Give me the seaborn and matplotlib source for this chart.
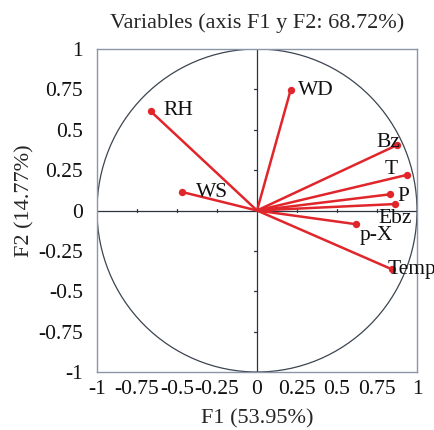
import matplotlib
matplotlib.use("Agg")
import matplotlib.pyplot as plt
import seaborn as sns
import numpy as np
import pandas as pd

variables = ["WD", "RH", "WS", "Bz", "T", "P", "Ebz", "p-X", "Temp"]
f1 = [0.21, -0.665, -0.47, 0.875, 0.935, 0.83, 0.865, 0.62, 0.845]
f2 = [0.745, 0.615, 0.115, 0.405, 0.22, 0.10, 0.04, -0.085, -0.365]
ticks = [-1, -0.75, -0.5, -0.25, 0, 0.25, 0.5, 0.75, 1]
tick_labels = ["-1", "-0.75", "-0.5", "-0.25", "0", "0.25", "0.5", "0.75", "1"]
title = "Variables (axis F1 y F2: 68.72%)"
xlabel = "F1 (53.95%)"
ylabel = "F2 (14.77%)"

# label offsets in pixels and alignment (style)
offsets = {"WD": (7, 0, "left"), "RH": (13, 1, "left"), "WS": (14, -1, "left"),
           "Bz": (3, 3, "right"), "T": (-9, 5, "right"), "P": (8, -2, "left"),
           "Ebz": (16, -14, "right"), "p-X": (3, -11, "left"), "Temp": (-5, 0, "left")}

sns.set_style("white")
plt.rcParams["font.family"] = ["Liberation Serif", "DejaVu Serif"]

df = pd.DataFrame({"var": variables, "F1": f1, "F2": f2})

fig = plt.figure(figsize=(4.35, 4.30), dpi=100)
ax = fig.add_axes([97/435, 1-372/430, 320/435, 323/430])

red = "#e0262b"
axis_col = "#2b3440"
for x, y in zip(df.F1, df.F2):
    ax.plot([0, x], [0, y], color=red, lw=1.8, zorder=3, solid_capstyle="butt")
sns.scatterplot(data=df, x="F1", y="F2", ax=ax, color=red, s=28, edgecolor=red,
                linewidth=0, zorder=4, legend=False)

circle = plt.Circle((0, 0), 1, fill=False, color="#3b4550", lw=0.9, zorder=2)
ax.add_patch(circle)
ax.axhline(0, color=axis_col, lw=0.9, zorder=2)
ax.axvline(0, color=axis_col, lw=0.9, zorder=2)
for t in ticks:
    if t in (-1, 0, 1):
        continue
    ax.plot([t, t], [-0.012, 0.012], color=axis_col, lw=0.9, zorder=2)
    ax.plot([-0.02, 0.0], [t, t], color=axis_col, lw=0.9, zorder=2)

for name, x, y in zip(df["var"], df.F1, df.F2):
    dx, dy, ha = offsets[name]
    ax.annotate(name, (x, y), xytext=(dx, dy), textcoords="offset pixels",
                ha=ha, va="center", fontsize=15.5, color="#111111", zorder=5,
                annotation_clip=False)

ax.set_xlim(-1, 1)
ax.set_ylim(-1, 1)
ax.set_xticks(ticks)
ax.set_xticklabels(tick_labels)
ax.set_yticks(ticks)
ax.set_yticklabels(tick_labels)
ax.tick_params(axis="x", length=0, labelsize=15.5, pad=6, colors="#111111")
ax.tick_params(axis="y", length=0, labelsize=15.5, pad=10, colors="#111111")
for s in ax.spines.values():
    s.set_color("#8a96a8")
    s.set_linewidth(1.0)
ax.set_xlabel(xlabel, fontsize=16, labelpad=7)
ax.set_ylabel(ylabel, fontsize=16)
ax.yaxis.set_label_coords(-0.195, 0.53)
ax.set_title(title, fontsize=16, pad=15)

fig.savefig("out.png", dpi=100)
